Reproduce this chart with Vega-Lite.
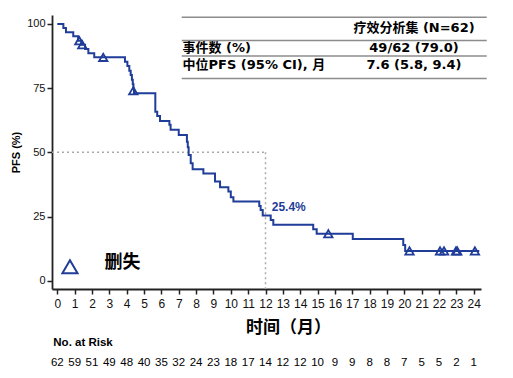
{
  "$schema": "https://vega.github.io/schema/vega-lite/v6.json",
  "width": 429,
  "height": 274,
  "autosize": {"type": "none"},
  "padding": {"left": 52, "top": 15, "right": 32, "bottom": 89},
  "background": "white",
  "config": {"view": {"stroke": null}},
  "datasets": {
    "km": [
      {"t": 0, "s": 100}, {"t": 0.35, "s": 98.4}, {"t": 0.5, "s": 96.8}, {"t": 0.92, "s": 95.2},
      {"t": 1.2, "s": 93.5}, {"t": 1.38, "s": 91.9}, {"t": 1.6, "s": 90.3}, {"t": 1.79, "s": 88.6},
      {"t": 2.13, "s": 87.0}, {"t": 3.9, "s": 85.3}, {"t": 4.04, "s": 83.6}, {"t": 4.15, "s": 81.8},
      {"t": 4.23, "s": 80.1}, {"t": 4.3, "s": 78.3}, {"t": 4.35, "s": 76.5}, {"t": 4.39, "s": 74.8},
      {"t": 4.42, "s": 73.0}, {"t": 5.65, "s": 65.8}, {"t": 5.76, "s": 64.2}, {"t": 5.92, "s": 62.2},
      {"t": 6.46, "s": 60.7}, {"t": 6.53, "s": 58.8}, {"t": 7.0, "s": 56.8}, {"t": 7.47, "s": 54.1},
      {"t": 7.52, "s": 52.0}, {"t": 7.57, "s": 49.0}, {"t": 7.69, "s": 45.7}, {"t": 7.8, "s": 43.4},
      {"t": 8.42, "s": 41.8}, {"t": 9.09, "s": 38.6}, {"t": 9.38, "s": 36.4}, {"t": 9.86, "s": 34.7},
      {"t": 10.0, "s": 32.5}, {"t": 10.15, "s": 30.8}, {"t": 11.64, "s": 29.1}, {"t": 11.72, "s": 27.5},
      {"t": 11.84, "s": 25.4}, {"t": 12.3, "s": 23.6}, {"t": 12.45, "s": 21.8}, {"t": 14.75, "s": 20.0},
      {"t": 14.95, "s": 18.3}, {"t": 17.03, "s": 16.2}, {"t": 19.94, "s": 13.9}, {"t": 20.05, "s": 11.6},
      {"t": 24.32, "s": 11.6}
    ],
    "censor": [
      {"t": 1.27, "s": 93.5}, {"t": 1.44, "s": 91.9}, {"t": 2.65, "s": 87.0}, {"t": 4.38, "s": 74.0},
      {"t": 15.62, "s": 18.3}, {"t": 20.3, "s": 11.6}, {"t": 22.06, "s": 11.6}, {"t": 22.29, "s": 11.6},
      {"t": 22.98, "s": 11.6}, {"t": 23.05, "s": 11.6}, {"t": 24.07, "s": 11.6}
    ],
    "risk": [
      {"t": 0, "n": 62}, {"t": 1, "n": 59}, {"t": 2, "n": 51}, {"t": 3, "n": 49}, {"t": 4, "n": 48},
      {"t": 5, "n": 40}, {"t": 6, "n": 35}, {"t": 7, "n": 32}, {"t": 8, "n": 24}, {"t": 9, "n": 23},
      {"t": 10, "n": 18}, {"t": 11, "n": 17}, {"t": 12, "n": 14}, {"t": 13, "n": 12}, {"t": 14, "n": 12},
      {"t": 15, "n": 10}, {"t": 16, "n": 9}, {"t": 17, "n": 9}, {"t": 18, "n": 8}, {"t": 19, "n": 8},
      {"t": 20, "n": 7}, {"t": 21, "n": 5}, {"t": 22, "n": 5}, {"t": 23, "n": 2}, {"t": 24, "n": 1}
    ]
  },
  "encoding": {
    "x": {
      "type": "quantitative",
      "scale": {"domain": [-0.305, 24.42], "nice": false, "zero": false},
      "axis": {
        "values": [0,1,2,3,4,5,6,7,8,9,10,11,12,13,14,15,16,17,18,19,20,21,22,23,24],
        "grid": false, "domainColor": "#222", "domainWidth": 1.8,
        "tickColor": "#222", "tickWidth": 1.5, "tickSize": 5,
        "labelFont": "Liberation Sans", "labelFontSize": 12, "labelColor": "#111",
        "labelPadding": 4, "labelFlush": false, "labelOverlap": false,
        "title": "时间（月）", "titleFont": "Noto Sans CJK SC", "titleFontSize": 17,
        "titleFontWeight": "bold", "titleColor": "#000",
        "titleX": 236, "titleY": 43, "titleBaseline": "alphabetic", "titleAlign": "center"
      }
    },
    "y": {
      "type": "quantitative",
      "scale": {"domain": [-3.24, 103.5], "nice": false, "zero": false},
      "axis": {
        "values": [0, 25, 50, 75, 100],
        "grid": false, "domainColor": "#222", "domainWidth": 1.8,
        "tickColor": "#222", "tickWidth": 1.5, "tickSize": 5,
        "labelFont": "Liberation Sans", "labelFontSize": 11, "labelColor": "#111",
        "labelPadding": 2,
        "title": "PFS (%)", "titleFont": "Liberation Sans", "titleFontSize": 11,
        "titleFontWeight": "bold", "titleColor": "#000", "titlePadding": 5
      }
    }
  },
  "layer": [
    {
      "data": {"values": [{}]},
      "mark": {"type": "rule", "color": "#aaaaaa", "strokeWidth": 1.5, "strokeDash": [2, 3]},
      "encoding": {"x": {"datum": -0.305}, "x2": {"datum": 12}, "y": {"datum": 50}}
    },
    {
      "data": {"values": [{}]},
      "mark": {"type": "rule", "color": "#aaaaaa", "strokeWidth": 1.5, "strokeDash": [2, 3]},
      "encoding": {"x": {"datum": 12}, "y": {"datum": 50}, "y2": {"datum": -3.24}}
    },
    {
      "data": {"name": "km"},
      "mark": {"type": "line", "interpolate": "step-after", "color": "#1f3d99", "strokeWidth": 2},
      "encoding": {"x": {"field": "t"}, "y": {"field": "s"}}
    },
    {
      "data": {"name": "censor"},
      "mark": {"type": "point", "shape": "triangle-up", "filled": false, "color": "#1f3d99", "strokeWidth": 1.8, "size": 70, "opacity": 1},
      "encoding": {"x": {"field": "t"}, "y": {"field": "s"}}
    },
    {
      "data": {"values": [{"label": "25.4%"}]},
      "mark": {"type": "text", "align": "left", "baseline": "middle", "font": "Liberation Sans", "fontSize": 12, "fontWeight": "bold", "color": "#1f3d99"},
      "encoding": {"x": {"datum": 12.36}, "y": {"datum": 28.6}, "text": {"field": "label"}}
    },
    {
      "data": {"values": [{}]},
      "mark": {"type": "point", "shape": "triangle-up", "filled": false, "color": "#1f3d99", "strokeWidth": 2, "size": 230, "opacity": 1},
      "encoding": {"x": {"datum": 0.73}, "y": {"datum": 5.45}}
    },
    {
      "data": {"values": [{"label": "删失"}]},
      "mark": {"type": "text", "align": "left", "baseline": "middle", "font": "Noto Sans CJK SC", "fontSize": 18, "fontWeight": "bold", "color": "#000"},
      "encoding": {"x": {"datum": 2.72}, "y": {"datum": 6.8}, "text": {"field": "label"}}
    },
    {
      "data": {"values": [{"s": 102.6}, {"s": 93.6}, {"s": 87.5}, {"s": 78.8}]},
      "mark": {"type": "rule", "color": "#8c8c8c", "strokeWidth": 1.5},
      "encoding": {"x": {"datum": 7.17}, "x2": {"datum": 24.75}, "y": {"field": "s"}}
    },
    {
      "data": {"values": [
        {"label": "疗效分析集 (N=62)", "s": 98.4},
        {"label": "49/62 (79.0)", "s": 90.6},
        {"label": "7.6 (5.8, 9.4)", "s": 84.2}
      ]},
      "mark": {"type": "text", "align": "center", "baseline": "middle", "font": "DejaVu Sans, Noto Sans CJK SC", "fontSize": 13, "fontWeight": "bold", "color": "#000"},
      "encoding": {"x": {"datum": 20.56}, "y": {"field": "s"}, "text": {"field": "label"}}
    },
    {
      "data": {"values": [
        {"label": "事件数 (%)", "s": 90.6},
        {"label": "中位PFS (95% CI), 月", "s": 84.2}
      ]},
      "mark": {"type": "text", "align": "left", "baseline": "middle", "font": "DejaVu Sans, Noto Sans CJK SC", "fontSize": 13, "fontWeight": "bold", "color": "#000"},
      "encoding": {"x": {"datum": 7.22}, "y": {"field": "s"}, "text": {"field": "label"}}
    },
    {
      "data": {"values": [{"label": "No. at Risk"}]},
      "mark": {"type": "text", "align": "left", "baseline": "alphabetic", "font": "Liberation Sans", "fontSize": 11.5, "fontWeight": "bold", "color": "#000"},
      "encoding": {"x": {"datum": -0.23}, "y": {"datum": -25.4}, "text": {"field": "label"}}
    },
    {
      "data": {"name": "risk"},
      "mark": {"type": "text", "align": "center", "baseline": "alphabetic", "font": "Liberation Sans", "fontSize": 11.5, "color": "#000"},
      "encoding": {"x": {"field": "t"}, "y": {"datum": -33.2}, "text": {"field": "n", "type": "quantitative"}}
    }
  ]
}
